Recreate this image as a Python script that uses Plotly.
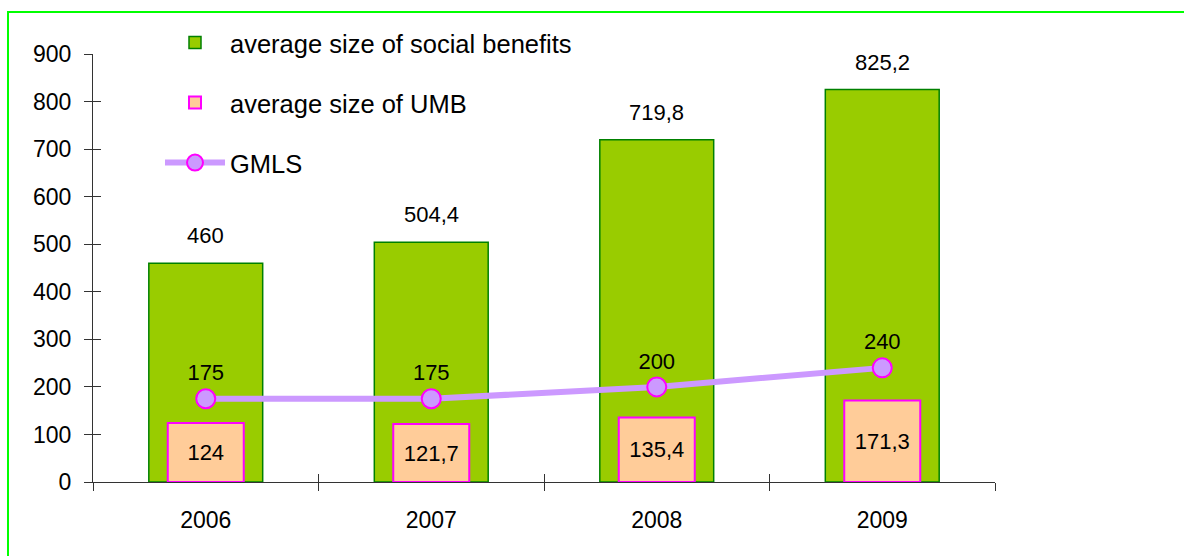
import plotly.graph_objects as go

years = ["2006", "2007", "2008", "2009"]
social_benefits = [460, 504.4, 719.8, 825.2]
umb = [124, 121.7, 135.4, 171.3]
gmls = [175, 175, 200, 240]
y_ticks = [0, 100, 200, 300, 400, 500, 600, 700, 800, 900]

FONT = "Liberation Sans, Arial, sans-serif"


def fmt(v):
    return f"{v:g}".replace(".", ",")


fig = go.Figure()

fig.add_trace(go.Bar(
    x=years, y=social_benefits, name="average size of social benefits",
    width=0.505, marker=dict(color="#99CC00", line=dict(color="#008000", width=1.5)),
    legend="legend", hoverinfo="skip",
))
fig.add_trace(go.Bar(
    x=years, y=umb, name="average size of UMB",
    width=0.337, marker=dict(color="#FFCC99", line=dict(color="#FF00FF", width=2)),
    text=[fmt(v) for v in umb], textposition="inside", insidetextanchor="middle",
    textfont=dict(family=FONT, size=22, color="black"),
    legend="legend2", hoverinfo="skip",
))
fig.add_trace(go.Scatter(
    x=years, y=gmls, name="GMLS", xaxis="x2", yaxis="y2",
    mode="lines+markers+text",
    line=dict(color="#CC99FF", width=6),
    marker=dict(size=19, color="#CC99FF", line=dict(color="#FF00FF", width=2)),
    text=[fmt(v) for v in gmls], textposition="top center",
    textfont=dict(family=FONT, size=22, color="black"),
    legend="legend3", hoverinfo="skip",
))

# labels above the social-benefit bars (x = category index on the category axis)
annotations = [
    dict(x=i, y=v, xref="x", yref="y", text=fmt(v), showarrow=False,
         yanchor="bottom", yshift=13, font=dict(family=FONT, size=22, color="black"))
    for i, v in enumerate(social_benefits)
]

L, R, T, B = 93, 189, 54, 74
W, H = 1184, 556
pw, ph = W - L - R, H - T - B


def px_x(p):
    return (p - L) / pw


def px_y(p):
    return (H - B - p) / ph


legend_common = dict(
    xanchor="left", yanchor="middle", bgcolor="rgba(0,0,0,0)",
    font=dict(family=FONT, size=25.5, color="black"), itemwidth=60,
)

axis_common = dict(showgrid=False, zeroline=False, tickcolor="#333333", ticklen=8, tickwidth=1)

fig.update_layout(
    width=W, height=H, autosize=False,
    margin=dict(l=L, r=R, t=T, b=B),
    paper_bgcolor="white", plot_bgcolor="white",
    barmode="overlay", separators=", ",
    showlegend=True,
    font=dict(family=FONT, color="black"),
    xaxis=dict(type="category", categoryorder="array", categoryarray=years,
               range=[-0.5, 3.5], tickson="boundaries", ticks="outside",
               showline=True, linecolor="#333333", linewidth=1,
               tickfont=dict(family=FONT, size=23, color="black"),
               ticklabelstandoff=17, **axis_common),
    xaxis2=dict(type="category", categoryorder="array", categoryarray=years,
                range=[-0.5, 3.5], tickson="boundaries", ticks="inside",
                overlaying="x", showticklabels=False, showline=False, **axis_common),
    yaxis=dict(range=[0, 900], tickvals=y_ticks, ticks="outside", showline=True,
               linecolor="#333333", linewidth=1,
               tickfont=dict(family=FONT, size=23, color="black"),
               ticklabelstandoff=8, **axis_common),
    yaxis2=dict(range=[0, 900], tickvals=y_ticks, ticks="inside", overlaying="y",
                showticklabels=False, showline=False, **axis_common),
    legend=dict(x=px_x(160), y=px_y(43), **legend_common),
    legend2=dict(x=px_x(160), y=px_y(103), **legend_common),
    legend3=dict(x=px_x(160), y=px_y(163), **legend_common),
    annotations=annotations,
    shapes=[dict(type="rect", xref="paper", yref="paper",
                 x0=px_x(8), x1=1.5, y0=-0.5, y1=px_y(12),
                 line=dict(color="#00FF00", width=2), layer="below")],
)

fig.write_html(
    "out.html",
    config={"displayModeBar": False},
    post_script="document.body.style.margin='0';document.body.style.overflow='hidden';",
)
